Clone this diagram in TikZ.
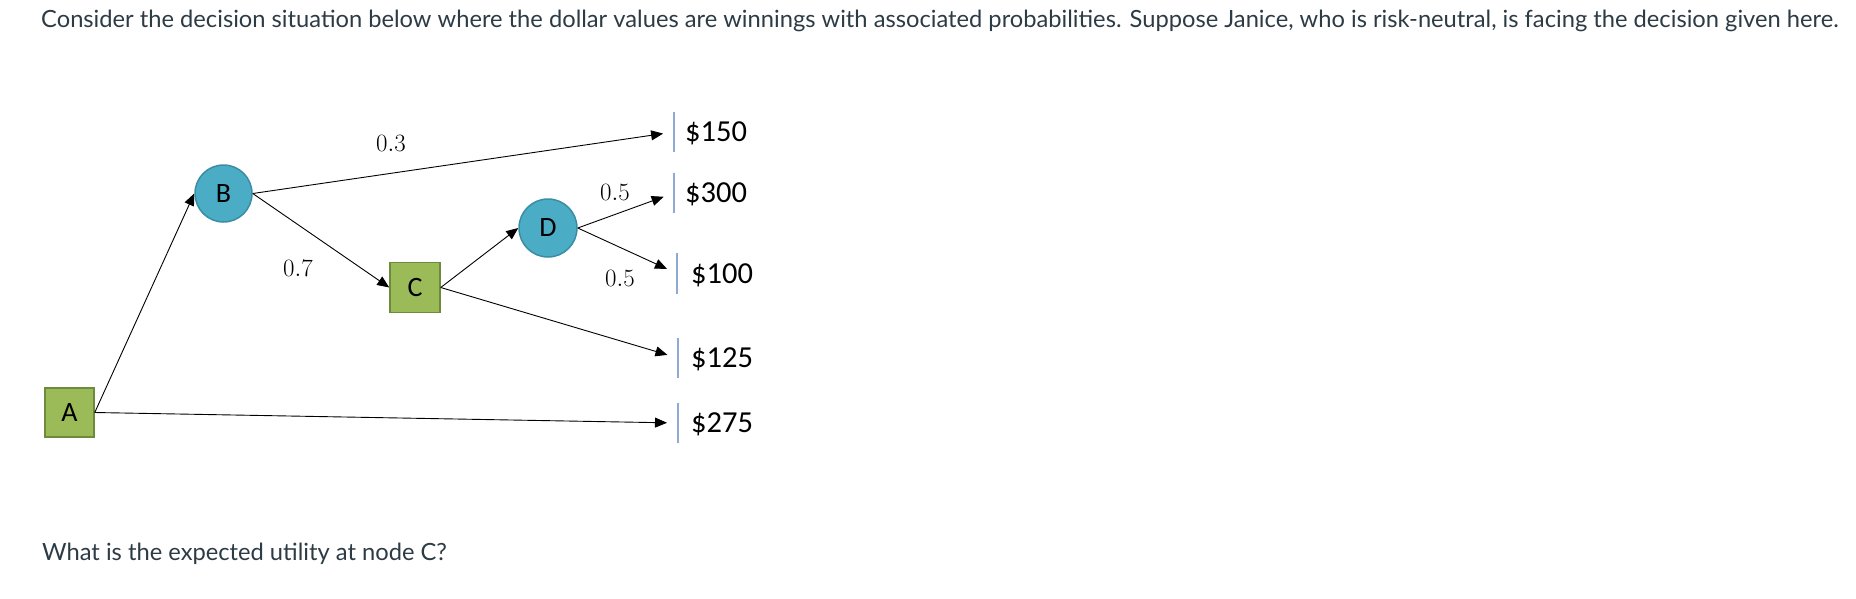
\documentclass[tikz,border=0pt]{standalone}
\usepackage{fontspec}
\setmainfont{Latin Modern Roman}
\newfontfamily\latofont{Lato}
\newfontfamily\calfont{Carlito}
\usetikzlibrary{arrows.meta}
\definecolor{txtcol}{HTML}{2D3B45}
\definecolor{greenfill}{HTML}{9BBB59}
\definecolor{greenline}{HTML}{6E8B3D}
\definecolor{bluefill}{HTML}{4BACC6}
\definecolor{blueline}{HTML}{3A8DA4}
\definecolor{sepcol}{HTML}{8DA9D4}
\begin{document}
\begin{tikzpicture}[x=1pt,y=-1pt,
  decision/.style={rectangle,draw=greenline,fill=greenfill,line width=1.5pt,minimum size=49pt,inner sep=0pt,font=\calfont\fontsize{28}{32}\selectfont},
  chance/.style={circle,draw=blueline,fill=bluefill,line width=1.5pt,minimum size=57pt,inner sep=0pt,font=\calfont\fontsize{28}{32}\selectfont},
  branch/.style={line width=0.9pt,-{Triangle[length=12pt,width=10pt]}},
  tobranch/.style={branch,shorten >=11pt},
  value/.style={anchor=west,minimum height=40pt,text depth=0pt,inner xsep=11pt,inner ysep=0pt,font=\calfont\fontsize{30.5}{34}\selectfont,
    append after command={\pgfextra{\draw[sepcol,line width=1.2pt] (\tikzlastnode.north west) -- (\tikzlastnode.south west);}}},
  prob/.style={font=\fontsize{29.5}{32}\selectfont,inner sep=0pt},
  question/.style={anchor=base west,inner sep=0pt,text=txtcol,font=\latofont\fontsize{23.7}{28}\selectfont}
]
\useasboundingbox (0,0) rectangle (1856,598);

\node[question] (title) at (41,27) {Consider the decision situation below where the dollar values are winnings with associated probabilities. Suppose Janice, who is risk-neutral, is facing the decision given here.};
\node[question] (ask) at (42,560) {What is the expected utility at node C?};

\node[decision] (A) at (69.5,412.5) {A};
\node[chance] (B) at (223.5,193.5) {B};
\node[decision,minimum size=50pt] (C) at (415,287.5) {C};
\node[chance,minimum size=58pt] (D) at (548,228) {D};

\node[value] (v150) at (674,132) {\$150};
\node[value] (v300) at (674,193) {\$300};
\node[value,inner xsep=14pt] (v100) at (677,273.5) {\$100};
\node[value,inner xsep=13pt] (v125) at (678,358) {\$125};
\node[value,inner xsep=13pt] (v275) at (678,423) {\$275};

\draw[branch] (A.east) -- (B.west);
\draw[tobranch] (A.east) -- (v275.west);
\draw[tobranch] (B.east) -- (v150.west);
\draw[branch] (B.east) -- (C.west);
\draw[branch] (C.east) -- (D.west);
\draw[tobranch] (C.east) -- (v125.west);
\draw[tobranch] (D.east) -- (v300.west);
\draw[tobranch] (D.east) -- (v100.west);

\node[prob] (p03) at (391,143) {$0.3$};
\node[prob] (p07) at (298,268) {$0.7$};
\node[prob] (p05a) at (615,192) {$0.5$};
\node[prob] (p05b) at (620,278) {$0.5$};
\end{tikzpicture}
\end{document}
